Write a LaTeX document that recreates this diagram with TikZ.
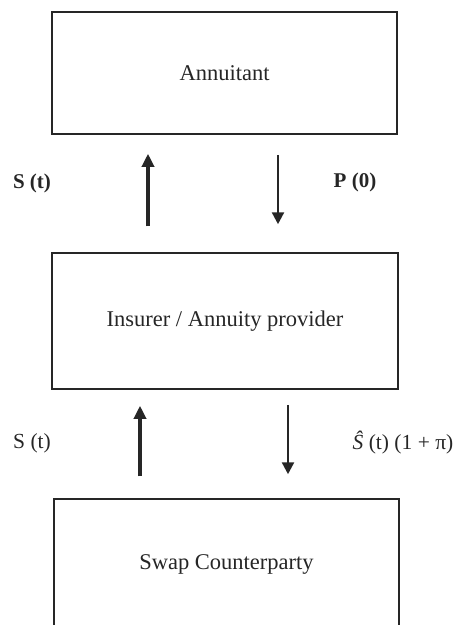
\documentclass[tikz,border=0pt]{standalone}
\usepackage{fontspec}
\setmainfont{Liberation Serif}
\usetikzlibrary{arrows.meta}
\begin{document}
\begin{tikzpicture}[x=1pt,y=-1pt,
  box/.style={draw=black!85,line width=1.5pt,rectangle,inner sep=0pt,font=\fontsize{22.5}{26}\selectfont,text=black!85},
  lbl/.style={font=\fontsize{21.5}{25}\selectfont,text=black!85,inner sep=0pt},
  blbl/.style={font=\bfseries\fontsize{21}{25}\selectfont,text=black!85,inner sep=0pt},
  uparr/.style={draw=black!85,line width=3.2pt,-{Triangle[length=13pt,width=12pt]}},
  dnarr/.style={draw=black!85,line width=2.4pt,-{Triangle[length=12pt,width=12pt]}}]
\useasboundingbox (0,0) rectangle (463,625);
\clip (0,0) rectangle (463,625);
\node[box,minimum width=345pt,minimum height=122pt] (b1) at (224.5,73) {Annuitant};
\node[box,minimum width=346pt,minimum height=136pt] (b2) at (225,321) {Insurer / Annuity provider};
\node[box,minimum width=345pt,minimum height=130pt] (b3) at (226.5,564) {Swap Counterparty};
\coordinate (xa) at (148,0);
\coordinate (xb) at (278,0);
\coordinate (xc) at (140,0);
\coordinate (xd) at (288,0);
\draw[uparr,shorten <=26pt,shorten >=19pt] (b2.north -| xa) -- (b1.south -| xa);
\draw[dnarr,shorten <=20pt,shorten >=28pt] (b1.south -| xb) -- (b2.north -| xb);
\draw[uparr,shorten <=22pt,shorten >=16pt] (b3.north -| xc) -- (b2.south -| xc);
\draw[dnarr,shorten <=15pt,shorten >=24pt] (b2.south -| xd) -- (b3.north -| xd);
\node[blbl] (l1) at (32,183) {S (t)};
\node[blbl] (l2) at (355,182) {P (0)};
\node[lbl] (l3) at (32,443) {S (t)};
\node[lbl] (l4) at (403,443) {\textit{Ŝ} (t) (1 + π)};
\end{tikzpicture}
\end{document}
